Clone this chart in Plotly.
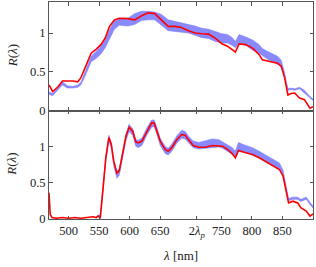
import plotly.graph_objects as go

# ---------------- data ----------------
top_red_wl = [468, 474, 482, 490, 498, 507, 515, 520, 528, 537, 545, 553, 560, 567, 575, 583, 597,
              608, 619, 630, 641, 652, 663, 674, 685, 696, 707, 718, 729, 740, 751, 760, 768, 773,
              779, 790, 801, 812, 817, 826, 834, 842, 848, 853, 859, 864, 870, 878, 886, 891, 895, 900]
top_red = [0.33, 0.245, 0.30, 0.38, 0.38, 0.38, 0.37, 0.42, 0.57, 0.74, 0.79, 0.85, 0.935, 1.085, 1.17,
           1.19, 1.185, 1.17, 1.22, 1.26, 1.25, 1.17, 1.085, 1.085, 1.07, 1.03, 1.0, 0.99, 0.985, 0.935,
           0.86, 0.83, 0.78, 0.755, 0.86, 0.85, 0.805, 0.72, 0.655, 0.64, 0.63, 0.61, 0.57, 0.44, 0.20,
           0.22, 0.225, 0.16, 0.14, 0.075, 0.03, 0.05]

top_blue_wl = top_red_wl
top_blue_lo = [0.21, 0.19, 0.26, 0.33, 0.29, 0.29, 0.30, 0.33, 0.46, 0.63, 0.67, 0.73, 0.81, 0.92, 1.05,
               1.10, 1.09, 1.11, 1.16, 1.17, 1.17, 1.10, 1.03, 1.02, 1.01, 1.00, 0.97, 0.94, 0.93, 0.89,
               0.87, 0.87, 0.84, 0.81, 0.87, 0.84, 0.78, 0.74, 0.71, 0.66, 0.63, 0.59, 0.57, 0.46, 0.26,
               0.27, 0.26, 0.28, 0.23, 0.19, 0.16, 0.13]
top_blue_hi = [0.24, 0.22, 0.29, 0.37, 0.32, 0.31, 0.33, 0.36, 0.52, 0.70, 0.76, 0.83, 0.91, 1.04, 1.16,
               1.19, 1.19, 1.25, 1.28, 1.28, 1.27, 1.24, 1.17, 1.15, 1.13, 1.11, 1.09, 1.06, 1.05, 1.02,
               0.99, 0.98, 0.94, 0.89, 0.98, 0.95, 0.91, 0.85, 0.80, 0.76, 0.73, 0.70, 0.65, 0.50, 0.28,
               0.29, 0.28, 0.30, 0.26, 0.21, 0.18, 0.15]

bot_red_wl = [468, 470, 473, 480, 490, 500, 510, 520, 530, 540, 545, 548, 552, 556, 561, 566, 570, 574,
              579, 583, 588, 594, 599, 605, 610, 614, 620, 628, 636, 640, 644, 650, 658, 663, 669, 677,
              685, 691, 696, 704, 713, 724, 735, 746, 752, 760, 768, 773, 778, 790, 801, 812, 823, 834,
              845, 851, 856, 860, 867, 875, 880, 889, 895, 900]
bot_red = [0.36, 0.06, 0.02, 0.01, 0.02, 0.01, 0.02, 0.01, 0.02, 0.03, 0.02, 0.04, 0.02, 0.38, 0.84,
           1.12, 1.02, 0.79, 0.63, 0.66, 0.885, 1.14, 1.26, 1.205, 1.06, 1.045, 1.07, 1.205, 1.32, 1.32,
           1.23, 1.07, 0.955, 0.93, 0.98, 1.09, 1.16, 1.15, 1.09, 1.01, 0.985, 0.985, 1.01, 1.01, 1.0,
           0.955, 0.895, 0.84, 0.94, 0.91, 0.885, 0.84, 0.785, 0.74, 0.68, 0.59, 0.38, 0.22, 0.245, 0.22,
           0.155, 0.11, 0.04, 0.07]

bot_blue_wl = [548, 552, 556, 561, 566, 570, 574, 579, 583, 588, 594, 599, 605, 610, 614, 620, 628, 636,
               640, 644, 650, 658, 663, 669, 677, 685, 691, 696, 704, 713, 724, 735, 746, 752, 760, 768,
               773, 778, 790, 801, 812, 823, 834, 845, 851, 856, 860, 867, 875, 880, 889, 895, 900]
bot_blue_lo = [0.02, 0.03, 0.33, 0.80, 1.07, 0.97, 0.73, 0.56, 0.60, 0.83, 1.08, 1.20, 1.15, 1.00, 0.98,
               1.01, 1.15, 1.26, 1.27, 1.18, 1.01, 0.90, 0.88, 0.93, 1.04, 1.11, 1.10, 1.05, 0.98, 0.96,
               0.97, 0.99, 0.99, 0.97, 0.93, 0.89, 0.85, 0.93, 0.91, 0.88, 0.84, 0.79, 0.74, 0.69, 0.61,
               0.40, 0.25, 0.27, 0.27, 0.24, 0.27, 0.20, 0.15]
bot_blue_hi = [0.05, 0.06, 0.40, 0.88, 1.15, 1.05, 0.81, 0.66, 0.69, 0.92, 1.17, 1.30, 1.24, 1.09, 1.08,
               1.11, 1.25, 1.36, 1.36, 1.27, 1.11, 1.00, 0.97, 1.03, 1.14, 1.22, 1.20, 1.14, 1.07, 1.05,
               1.07, 1.10, 1.09, 1.06, 1.03, 0.98, 0.93, 1.05, 1.01, 0.98, 0.93, 0.88, 0.83, 0.77, 0.67,
               0.44, 0.28, 0.30, 0.30, 0.27, 0.30, 0.23, 0.18]

x_tickvals = [500, 550, 600, 650, 710, 750, 800, 850]
x_ticktext = ["500", "550", "600", "650", "2<i>λ</i><sub><i>p</i></sub>", "750", "800", "850"]
y_tickvals = [0, 0.5, 1]
y_ticktext = ["0", "0.5", "1"]

# ---------------- figure ----------------
BLUE = "rgba(118,118,255,0.85)"
RED = "#ff0000"
FONT = "Liberation Serif"

fig = go.Figure()

def add_panel(wl_b, lo, hi, wl_r, red, xa, ya):
    fig.add_trace(go.Scatter(x=wl_b, y=lo, mode="lines", line=dict(width=0.6, color=BLUE),
                             xaxis=xa, yaxis=ya, showlegend=False, hoverinfo="skip"))
    fig.add_trace(go.Scatter(x=wl_b, y=hi, mode="lines", line=dict(width=0.6, color=BLUE),
                             fill="tonexty", fillcolor=BLUE,
                             xaxis=xa, yaxis=ya, showlegend=False, hoverinfo="skip"))
    fig.add_trace(go.Scatter(x=wl_r, y=red, mode="lines", line=dict(width=1.6, color=RED),
                             xaxis=xa, yaxis=ya, showlegend=False))

add_panel(top_blue_wl, top_blue_lo, top_blue_hi, top_red_wl, top_red, "x2", "y2")
add_panel(bot_blue_wl, bot_blue_lo, bot_blue_hi, bot_red_wl, bot_red, "x", "y")

axis_common = dict(showline=True, linecolor="#555", linewidth=1, mirror="allticks",
                   ticks="inside", ticklen=3.5, tickcolor="#555", tickwidth=0.8,
                   showgrid=False, zeroline=False,
                   tickfont=dict(family=FONT, size=12.5, color="#222"))

fig.update_layout(
    width=316, height=267,
    margin=dict(l=49, r=3, t=2, b=48),
    paper_bgcolor="white", plot_bgcolor="white",
    font=dict(family=FONT, color="#222"),
    xaxis=dict(domain=[0, 1], anchor="y", range=[468, 900], tickvals=x_tickvals,
               ticktext=x_ticktext, **axis_common),
    xaxis2=dict(domain=[0, 1], anchor="y2", matches="x", range=[468, 900], tickvals=x_tickvals,
                showticklabels=False, **axis_common),
    yaxis=dict(domain=[0, 0.5], anchor="x", range=[0, 1.49], tickvals=y_tickvals,
               ticktext=y_ticktext, **axis_common),
    yaxis2=dict(domain=[0.5, 1], anchor="x2", range=[0, 1.40], tickvals=y_tickvals,
                ticktext=y_ticktext, **axis_common),
    annotations=[
        dict(text="<i>R</i>(<i>λ</i>)", xref="paper", yref="paper", x=-0.14, y=0.75,
             textangle=-90, showarrow=False, font=dict(family=FONT, size=13, color="#222"),
             xanchor="center", yanchor="middle"),
        dict(text="<i>R</i>(<i>λ</i>)", xref="paper", yref="paper", x=-0.14, y=0.25,
             textangle=-90, showarrow=False, font=dict(family=FONT, size=13, color="#222"),
             xanchor="center", yanchor="middle"),
        dict(text="<i>λ</i> [nm]", xref="paper", yref="paper", x=0.497, y=-0.169,
             showarrow=False, font=dict(family=FONT, size=13, color="#222"),
             xanchor="center", yanchor="middle"),
    ],
)

fig.write_html("out.html", config={"displayModeBar": False},
               post_script="document.body.style.margin='0px';document.body.style.padding='0px';")
